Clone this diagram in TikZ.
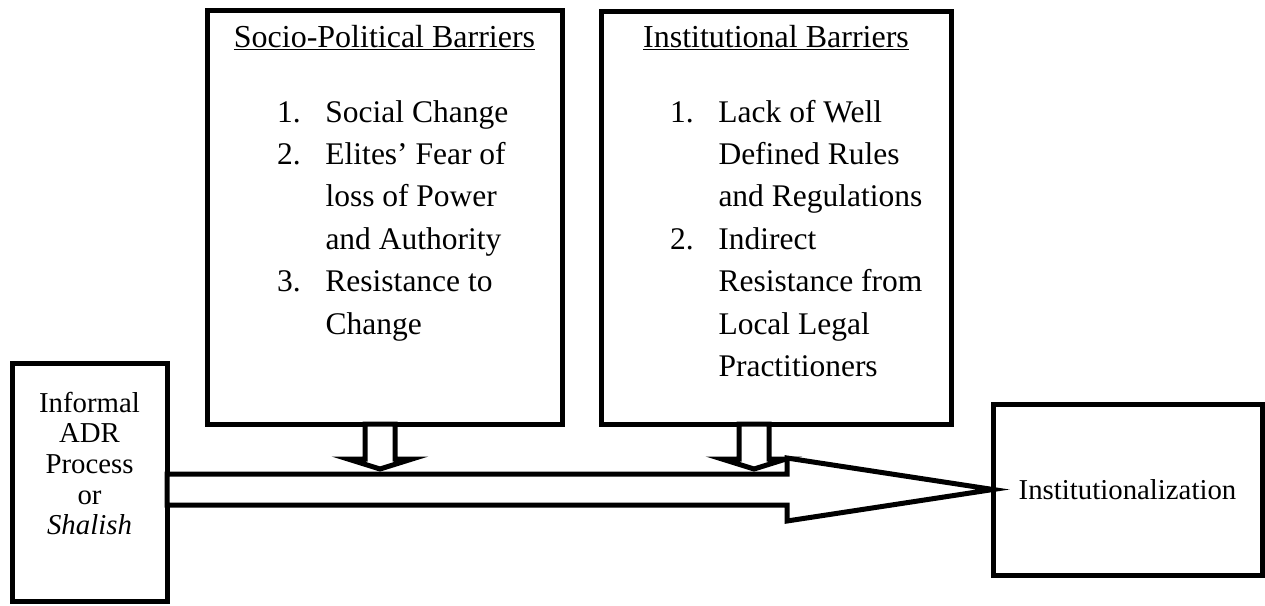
\documentclass[tikz,border=0pt]{standalone}
\usepackage{fontspec}
\setmainfont{Liberation Serif}
\usetikzlibrary{calc}
% fixed-width slot for the item numbers of the barrier lists
\newcommand{\barno}[1]{\makebox[48.5pt][l]{#1}}
\begin{document}
\begin{tikzpicture}[x=1pt,y=-1pt,
  box/.style={draw, line width=5pt, inner sep=0pt, outer sep=0pt},
  plainfont/.style={font=\fontsize{28.8}{30.7}\selectfont},
  titlefont/.style={font=\fontsize{32}{38}\selectfont},
  listfont/.style={font=\fontsize{31.5}{42.4}\selectfont},
  arrowline/.style={draw, line width=5pt, line join=miter, fill=white},
  label/.style={inner sep=0pt, outer sep=0pt},
]
\useasboundingbox (0,0) rectangle (1265,605);

% --- boxes ---
\node[box, minimum width=155pt, minimum height=238pt] (adr) at (89.5,482) {};
\node[box, minimum width=355pt, minimum height=413.5pt] (socio) at (384.5,217.25) {};
\node[box, minimum width=350pt, minimum height=413pt] (instbar) at (776,217.5) {};
\node[box, minimum width=269pt, minimum height=171pt, plainfont] (goal) at (1127.5,489.5) {Institutionalization};

% --- texts ---
\node[label, plainfont, anchor=base] (adrtext) at (89.5,412)
  {\begin{tabular}[t]{@{}c@{}}Informal\\ADR\\Process\\or\\\textit{Shalish}\end{tabular}};

\node[label, titlefont, anchor=base] (sociotitle) at (384.5,47) {\underline{Socio-Political Barriers}};
\node[label, listfont, anchor=base west] (sociolist) at (277,122)
  {\begin{tabular}[t]{@{}l@{}}
   \barno{1.}Social Change\\
   \barno{2.}Elites’ Fear of\\
   \barno{}loss of Power\\
   \barno{}and Authority\\
   \barno{3.}Resistance to\\
   \barno{}Change
   \end{tabular}};

\node[label, titlefont, anchor=base] (insttitle) at (776,47) {\underline{Institutional Barriers}};
\node[label, listfont, anchor=base west] (instlist) at (670,122)
  {\begin{tabular}[t]{@{}l@{}}
   \barno{1.}Lack of Well\\
   \barno{}Defined Rules\\
   \barno{}and Regulations\\
   \barno{2.}Indirect\\
   \barno{}Resistance from\\
   \barno{}Local Legal\\
   \barno{}Practitioners
   \end{tabular}};

% --- block arrows from the barrier boxes down onto the main arrow ---
\coordinate (d1) at ($(socio.south)+(-4.5,0)$);
\coordinate (d2) at ($(instbar.south)+(-22,0)$);
\foreach \p in {d1,d2}{
  \draw[arrowline] ($(\p)+(-15,0)$) -- ($(\p)+(-15,35)$) -- ($(\p)+(-32,35)$)
    -- ($(\p)+(0,45)$) -- ($(\p)+(32,35)$) -- ($(\p)+(15,35)$)
    -- ($(\p)+(15,0)$) -- cycle;
}

% --- main block arrow from the informal process to institutionalization ---
\coordinate (s0) at (adr.east |- goal.west);
\draw[arrowline] ($(s0)+(0,-15.5)$) -- ($(s0)+(620,-15.5)$) -- ($(s0)+(620,-31.5)$)
  -- (goal.west) -- ($(s0)+(620,31.5)$) -- ($(s0)+(620,15.5)$)
  -- ($(s0)+(0,15.5)$) -- cycle;
\end{tikzpicture}
\end{document}
